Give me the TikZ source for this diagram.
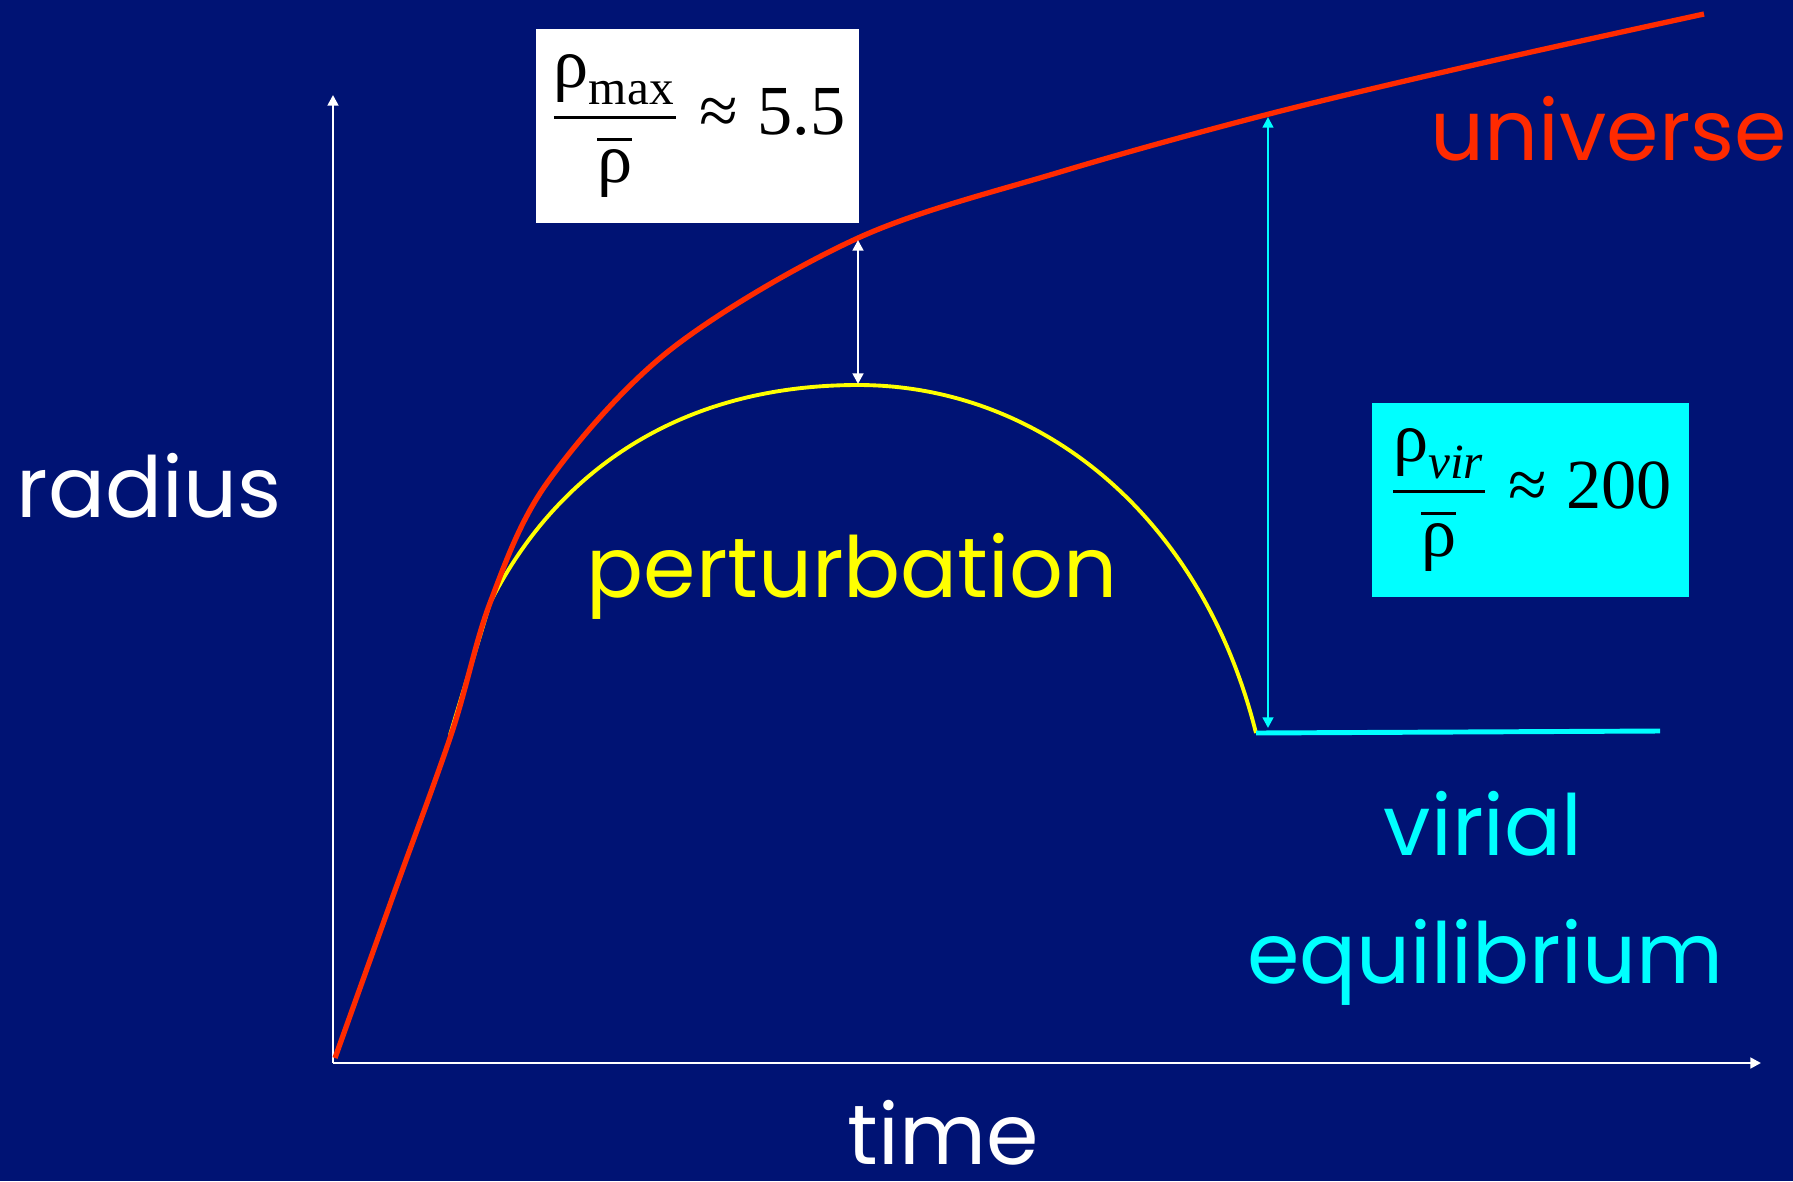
\documentclass[tikz,border=0pt]{standalone}
\usepackage{fix-cm}
\usepackage{amsmath}
\usepackage{fontspec}
\setmainfont{Poppins}
\newfontfamily\formulafont{Liberation Serif}
\usetikzlibrary{arrows.meta}
\definecolor{SlideBlue}{HTML}{001374}
\definecolor{UniverseRed}{HTML}{FF2A00}
\definecolor{PertYellow}{HTML}{FFFF00}
\definecolor{VirCyan}{HTML}{00FFFF}
\tikzset{
  axisarrow/.style={-{Triangle[length=3pt,width=3pt]},draw=white,line width=0.8pt},
  gaparrow/.style={{Triangle[length=3pt,width=3pt]}-{Triangle[length=3pt,width=3pt]},draw=white,line width=0.8pt},
  virarrow/.style={{Triangle[length=3pt,width=3pt]}-{Triangle[length=3pt,width=3pt]},draw=VirCyan,line width=0.7pt},
  virline/.style={draw=VirCyan,line width=1.4pt},
  universecurve/.style={draw=UniverseRed,line width=1.5pt,line join=round},
  pertcurve/.style={draw=PertYellow,line width=1.1pt},
  slidetext/.style={font=\fontsize{24}{28}\selectfont,anchor=base,inner sep=0pt},
  ratiobox/.style={font=\formulafont\fontsize{20}{24}\selectfont,text=black,minimum height=1.94cm,inner sep=0pt}
}
\begin{document}
\begin{tikzpicture}[x=0.01cm,y=-0.01cm]
\fill[SlideBlue] (0,0) rectangle (1793,1181);
\useasboundingbox (0,0) rectangle (1793,1181);
\coordinate (o) at (333,1063);
\coordinate (ytip) at (333,95);
\coordinate (xtip) at (1761,1063);
\coordinate (umax) at (858,240);
\coordinate (pmax) at (858,384);
\coordinate (uvir) at (1268,117);
\coordinate (pvir) at (1268,728);
\coordinate (pstart) at (450,735);
\coordinate (pend) at (1256,733);
\coordinate (vend) at (1660,731);
\draw[axisarrow] (o) -- (ytip);
\draw[axisarrow] (o) -- (xtip);
\draw[pertcurve] (pstart) -- (490,603) .. controls (545,493) and (658,385) .. (858,385)
  .. controls (1038,385) and (1201,513) .. (pend);
\draw[universecurve] plot[smooth,tension=0.55] coordinates {(335,1058) (393,896) (452,732) (490,603) (547,483) (670,350) (858,238) (1060,172) (1269,114) (1487,62) (1704,14)};
\draw[gaparrow] (umax) -- (pmax);
\draw[virarrow] (uvir) -- (pvir);
\draw[virline] (pend) -- (vend);
\node[ratiobox,fill=white,minimum width=3.23cm] (maxbox) at (697.5,126) {$\dfrac{\text{ρ}_{\text{max}}}{\overline{\text{ρ}}}\mathrel{\text{≈}}\text{5.5}$};
\node[ratiobox,fill=VirCyan,minimum width=3.17cm] (virbox) at (1530.5,500) {$\dfrac{\text{ρ}_{\textit{vir}}}{\overline{\text{ρ}}}\mathrel{\text{≈}}\text{200}$};
\node[slidetext,text=white] (radius) at (149,517) {radius};
\node[slidetext,text=white] (time) at (943,1164) {time};
\node[slidetext,text=UniverseRed] (universe) at (1609,160) {universe};
\node[slidetext,text=PertYellow] (perturbation) at (852,597) {perturbation};
\node[slidetext,text=VirCyan] (virial) at (1483,855) {virial};
\node[slidetext,text=VirCyan] (equilibrium) at (1485,983) {equilibrium};
\end{tikzpicture}
\end{document}
